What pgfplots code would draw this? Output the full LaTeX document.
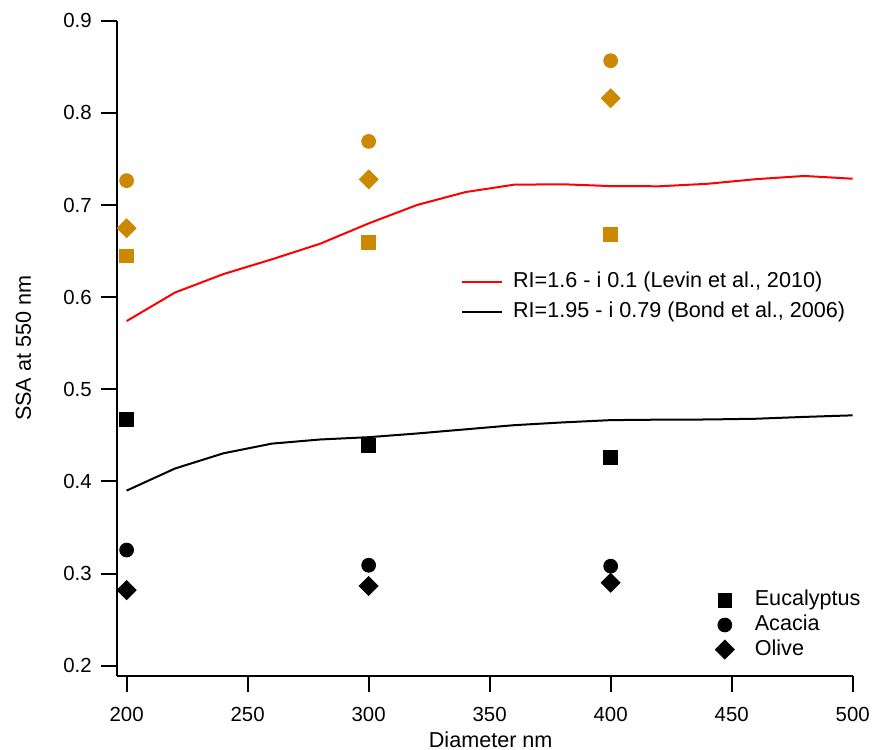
\documentclass[border=0pt]{standalone}
\usepackage{fontspec}
\setmainfont{Liberation Sans}
\usepackage{pgfplots}
\pgfplotsset{compat=1.18}
\definecolor{ochre}{HTML}{CC8800}

\pgfplotsset{
  common/.style={
    scale only axis, width=368pt, height=327.65pt,
    xmin=195.9, xmax=500, ymin=0.1888, ymax=0.9,
    clip=false,
  },
}

\begin{document}
\begin{tikzpicture}
\begin{axis}[
  common,
  axis lines*=left,
  axis line style={line width=1pt},
  xtick={200,250,...,500},
  ytick={0.2,0.3,...,0.9},
  tick align=outside,
  major tick length=8pt,
  tick style={line width=1pt, black},
  /pgf/number format/assume math mode=true,
  ticklabel style={font=\fontsize{10.2}{12}\selectfont},
  yticklabel style={xshift=-1pt, /pgf/number format/.cd, fixed, fixed zerofill, precision=1},
  xticklabel style={yshift=-4pt, /pgf/number format/1000 sep={}},
  xlabel={Diameter nm},
  ylabel={SSA at 550 nm},
  every axis x label/.style={at={(rel axis cs:0.5,0)}, anchor=center, yshift=-31.75pt, xshift=3pt, font=\fontsize{10.8}{12}\selectfont},
  every axis y label/.style={at={(rel axis cs:0,0.5)}, anchor=center, xshift=-46.6pt, rotate=90, font=\fontsize{10.8}{12}\selectfont},
  legend image code/.code={\draw[#1] (0pt,0pt) -- (20pt,0pt);},
  legend style={at={(rel axis cs:0.4674,0.6177)}, anchor=north west, draw=none, fill=none,
    inner sep=0pt, column sep=5pt, row sep=4.2pt,
    font=\fontsize{10.8}{12}\selectfont,
    nodes={inner sep=0pt, text height=8pt, text depth=2.5pt}},
  legend cell align=left,
]
\addplot[red, line width=1pt] coordinates {
(200,0.574) (220,0.605) (240,0.625) (260,0.641) (280,0.658) (300,0.680)
(320,0.700) (340,0.714) (360,0.722) (380,0.7225) (400,0.7205) (420,0.7203)
(440,0.723) (460,0.728) (480,0.7315) (500,0.7285)};
\addlegendentry{RI=1.6 - i 0.1 (Levin et al., 2010)}
\addplot[black, line width=1pt] coordinates {
(200,0.390) (220,0.414) (240,0.4305) (260,0.441) (280,0.4455) (300,0.448)
(320,0.452) (340,0.4565) (360,0.461) (380,0.464) (400,0.4665) (420,0.467)
(440,0.4672) (460,0.468) (480,0.470) (500,0.4717)};
\addlegendentry{RI=1.95 - i 0.79 (Bond et al., 2006)}
\addplot[forget plot, only marks, color=ochre, mark=square*, mark size=3.47pt] coordinates {(200,0.6448) (300,0.6595) (400,0.6677)};
\addplot[forget plot, only marks, color=ochre, mark=*, mark size=3.47pt] coordinates {(200,0.7264) (300,0.769) (400,0.8566)};
\addplot[forget plot, only marks, color=ochre, mark=square*, mark size=3.34pt, mark options={rotate=45}] coordinates {(200,0.6747) (300,0.7278) (400,0.8158)};
\end{axis}
\begin{axis}[
  common,
  hide axis,
  legend image code/.code={\path[draw=none, fill=none] (-4pt,0pt) -- (10pt,0pt); \draw[#1] plot coordinates {(0pt,0pt)};},
  legend style={at={(rel axis cs:0.8129,0.132)}, anchor=north west, draw=none, fill=none,
    inner sep=0pt, column sep=5pt, row sep=1.8pt,
    font=\fontsize{10.8}{12}\selectfont,
    nodes={inner sep=0pt, text height=8pt, text depth=2.5pt}},
  legend cell align=left,
]
\addplot[only marks, color=black, mark=square*, mark size=3.47pt] coordinates {(200,0.4677) (300,0.4387) (400,0.4261)};
\addlegendentry{Eucalyptus}
\addplot[only marks, color=black, mark=*, mark size=3.47pt] coordinates {(200,0.3255) (300,0.309) (400,0.308)};
\addlegendentry{Acacia}
\addplot[only marks, color=black, mark=square*, mark size=3.34pt, mark options={rotate=45}] coordinates {(200,0.282) (300,0.2865) (400,0.290)};
\addlegendentry{Olive}
\end{axis}
\pgfresetboundingbox
\useasboundingbox (-58.35pt,-37pt) rectangle (378.65pt,338pt);
\end{tikzpicture}
\end{document}
